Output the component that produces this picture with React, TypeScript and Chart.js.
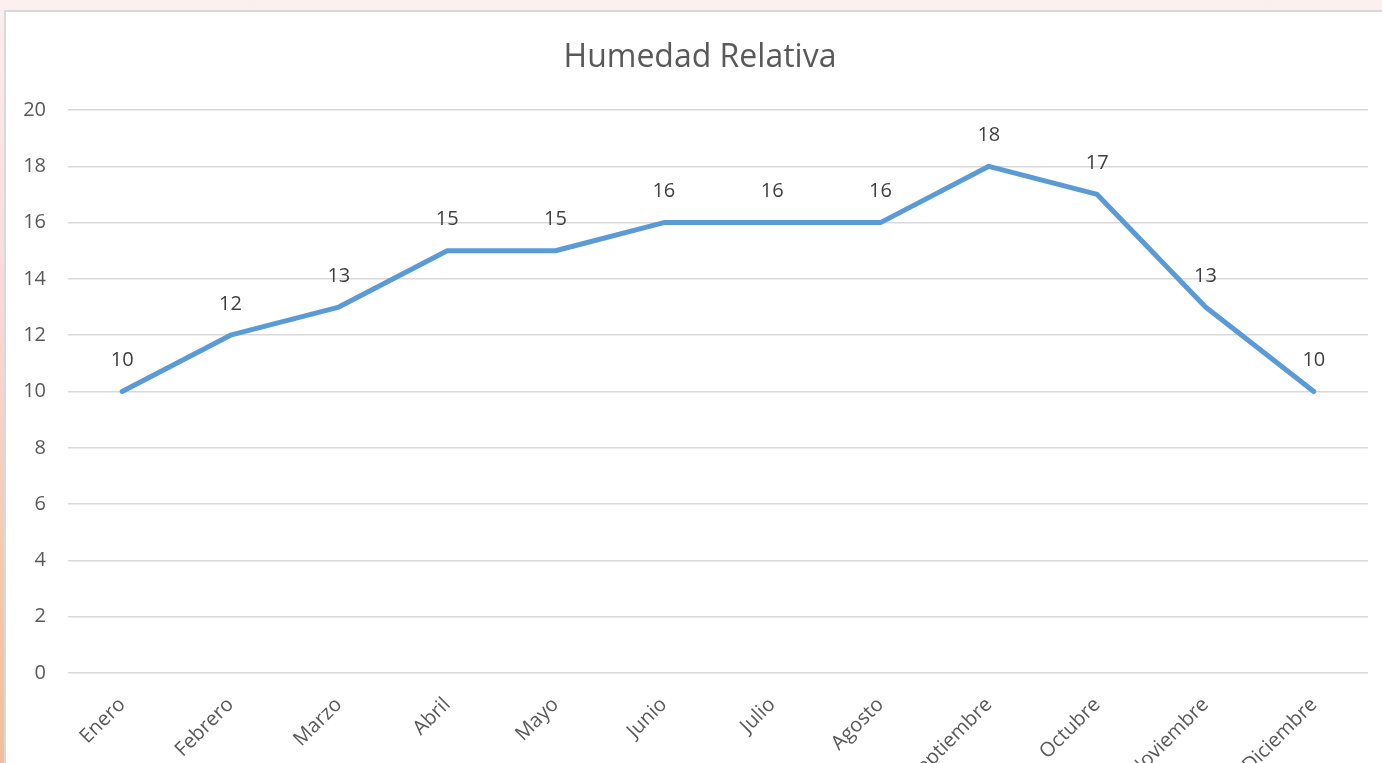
import React, { useEffect, useRef } from "react";
import { Chart, registerables } from "chart.js";

Chart.register(...registerables);

const titleText = "Humedad Relativa";
const months = ["Enero", "Febrero", "Marzo", "Abril", "Mayo", "Junio", "Julio", "Agosto", "Septiembre", "Octubre", "Noviembre", "Diciembre"];
const humidity = [10, 12, 13, 15, 15, 16, 16, 16, 18, 17, 13, 10];
const yMin = 0;
const yMax = 20;
const yStep = 2;

const FONT = "'Open Sans', 'DejaVu Sans', sans-serif";

const dataLabelPlugin = {
  id: "dataLabels",
  afterDatasetsDraw(chart: any) {
    const ctx = chart.ctx;
    const meta = chart.getDatasetMeta(0);
    ctx.save();
    ctx.font = `20px ${FONT}`;
    ctx.fillStyle = "#404040";
    ctx.textAlign = "center";
    ctx.textBaseline = "middle";
    meta.data.forEach((pt: any, i: number) => {
      ctx.fillText(String(humidity[i]), pt.x, pt.y - 31);
    });
    ctx.restore();
  },
};

const titlePlugin = {
  id: "customTitle",
  afterDraw(chart: any) {
    const ctx = chart.ctx;
    ctx.save();
    ctx.font = `32px ${FONT}`;
    ctx.fillStyle = "#595959";
    ctx.textAlign = "center";
    ctx.textBaseline = "middle";
    ctx.fillText(titleText, 700, 58);
    ctx.restore();
  },
};

export default function App() {
  const ref = useRef<HTMLCanvasElement | null>(null);
  useEffect(() => {
    if (!ref.current) return;
    const chart = new Chart(ref.current, {
      type: "line",
      data: {
        labels: months,
        datasets: [
          {
            data: humidity,
            borderColor: "#5b9bd5",
            borderWidth: 5,
            pointRadius: 0,
            pointHoverRadius: 0,
            tension: 0,
            fill: false,
            borderCapStyle: "round",
            borderJoinStyle: "round",
          },
        ],
      },
      options: {
        animation: false,
        responsive: false,
        events: [],
        layout: { padding: { left: 0, right: 14, top: 110, bottom: 0 } },
        plugins: {
          legend: { display: false },
          tooltip: { enabled: false },
          title: { display: false },
        },
        scales: {
          x: {
            offset: true,
            grid: { display: false, drawTicks: false },
            border: { display: false },
            ticks: {
              autoSkip: false,
              minRotation: 45,
              maxRotation: 45,
              color: "#595959",
              font: { family: FONT, size: 20 },
              padding: 20,
            },
            afterFit(scale: any) {
              scale.height = 157;
            },
          },
          y: {
            min: yMin,
            max: yMax,
            ticks: {
              stepSize: yStep,
              color: "#595959",
              font: { family: FONT, size: 20 },
              padding: 22,
            },
            grid: { color: "#d9d9d9", lineWidth: 1.5, drawTicks: false },
            border: { display: false },
            afterFit(scale: any) {
              scale.width = 68;
            },
          },
        },
      },
      plugins: [dataLabelPlugin, titlePlugin],
    });
    return () => chart.destroy();
  }, []);

  return (
    <div
      style={{
        position: "fixed",
        left: 0,
        top: 0,
        width: 1382,
        height: 763,
        overflow: "hidden",
        background: "linear-gradient(180deg, #fbeff0 0%, #f7d9d6 40%, #f2c7a8 80%, #eebf9a 100%)",
      }}
    >
      <div
        style={{
          position: "absolute",
          left: 4,
          top: 10,
          width: 1400,
          height: 840,
          background: "#ffffff",
          borderLeft: "2px solid #d9d9d9",
          borderTop: "2px solid #d9d9d9",
        }}
      />
      <canvas ref={ref} width={1382} height={830} style={{ position: "absolute", left: 0, top: 0 }} />
    </div>
  );
}
